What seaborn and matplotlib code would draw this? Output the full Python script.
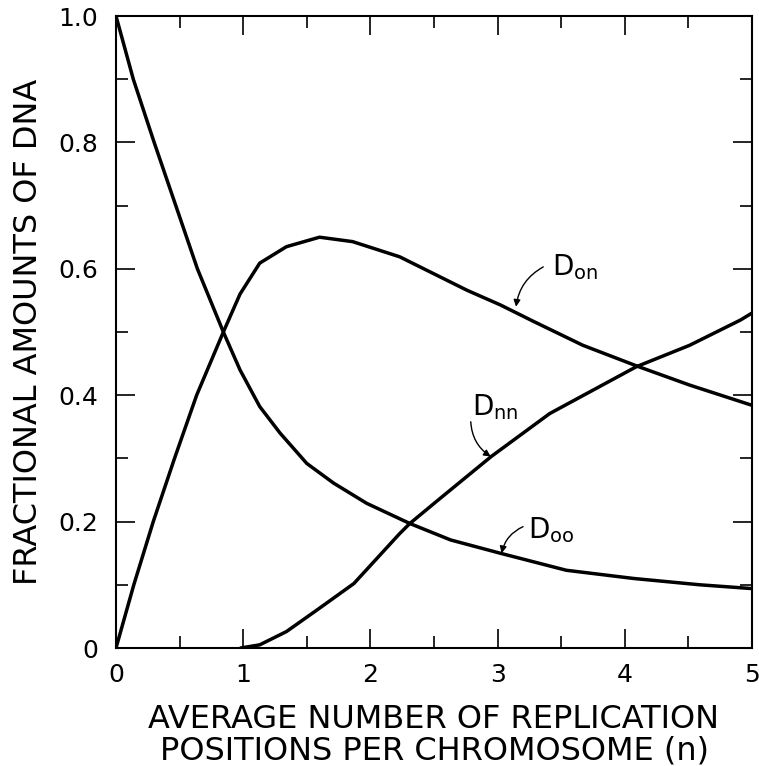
import matplotlib
matplotlib.use("Agg")
import matplotlib.pyplot as plt
from matplotlib.ticker import MultipleLocator, FixedLocator, FixedFormatter
import seaborn as sns
import pandas as pd

# ---- data ----
n_oo = [0, 0.136, 0.30, 0.47, 0.64, 0.844, 0.975, 1.13, 1.29, 1.50, 1.71, 1.97,
        2.31, 2.63, 3.02, 3.54, 4.07, 4.59, 5.0]
d_oo = [1.0, 0.9, 0.8, 0.7, 0.6, 0.5, 0.44, 0.382, 0.34, 0.292, 0.261, 0.229,
        0.197, 0.171, 0.150, 0.123, 0.110, 0.100, 0.094]

n_on = [0, 0.14, 0.293, 0.46, 0.634, 0.844, 0.975, 1.13, 1.34, 1.60, 1.86, 2.23,
        2.49, 2.76, 3.02, 3.28, 3.67, 4.11, 4.51, 5.0]
d_on = [0, 0.1, 0.2, 0.3, 0.4, 0.5, 0.56, 0.609, 0.635, 0.650, 0.643, 0.619,
        0.593, 0.566, 0.543, 0.517, 0.479, 0.445, 0.416, 0.384]

n_nn = [0.98, 1.13, 1.34, 1.60, 1.87, 2.23, 2.31, 2.55, 2.95, 3.41, 4.09, 4.51, 4.91, 5.0]
d_nn = [0.0, 0.005, 0.026, 0.063, 0.102, 0.181, 0.197, 0.237, 0.303, 0.371, 0.445,
        0.479, 0.519, 0.530]

x_ticks = [0, 1, 2, 3, 4, 5]
x_ticklabels = ["0", "1", "2", "3", "4", "5"]
y_ticks = [0, 0.2, 0.4, 0.6, 0.8, 1.0]
y_ticklabels = ["0", "0.2", "0.4", "0.6", "0.8", "1.0"]

labels = [r"$\mathregular{D_{on}}$", r"$\mathregular{D_{nn}}$", r"$\mathregular{D_{oo}}$"]
label_pos = [(3.425, 0.590), (2.796, 0.369), (3.239, 0.174)]
arrow_tail = [(3.359, 0.603), (2.789, 0.358), (3.200, 0.192)]
arrow_head = [(3.145, 0.540), (2.946, 0.303), (3.032, 0.150)]

xlabel = "AVERAGE NUMBER OF REPLICATION\nPOSITIONS PER CHROMOSOME (n)"
ylabel = "FRACTIONAL AMOUNTS OF DNA"

# ---- style ----
sns.set_style("ticks")
plt.rcParams["font.family"] = ["DejaVu Sans"]
plt.rcParams["mathtext.default"] = "regular"
for k in ("text.color", "axes.labelcolor", "xtick.color", "ytick.color",
          "axes.edgecolor"):
    plt.rcParams[k] = "black"

fig = plt.figure(figsize=(7.59, 7.66), dpi=100)
ax = fig.add_axes([116 / 759, 1 - 648 / 766, 636 / 759, 632 / 766])

df_oo = pd.DataFrame({"n": n_oo, "D": d_oo})
df_on = pd.DataFrame({"n": n_on, "D": d_on})
df_nn = pd.DataFrame({"n": n_nn, "D": d_nn})
for df in (df_oo, df_on, df_nn):
    sns.lineplot(data=df, x="n", y="D", ax=ax, color="black", linewidth=2.5,
                 estimator=None, sort=False)

ax.set_xlim(0, 5)
ax.set_ylim(0, 1.0)

ax.xaxis.set_major_locator(FixedLocator(x_ticks))
ax.xaxis.set_major_formatter(FixedFormatter(x_ticklabels))
ax.yaxis.set_major_locator(FixedLocator(y_ticks))
ax.yaxis.set_major_formatter(FixedFormatter(y_ticklabels))
ax.xaxis.set_minor_locator(MultipleLocator(0.5))
ax.yaxis.set_minor_locator(MultipleLocator(0.1))

ax.tick_params(which="both", direction="in", top=True, right=True,
               width=1.2, color="black", labelcolor="black")
ax.tick_params(which="major", length=14)
ax.tick_params(which="minor", length=8.5)
ax.tick_params(axis="x", which="major", labelsize=18, pad=11)
ax.tick_params(axis="y", which="major", labelsize=18, pad=13)

for s in ax.spines.values():
    s.set_linewidth(1.5)
    s.set_color("black")

ax.set_xlabel(xlabel, fontsize=23, linespacing=1.02, color="black")
ax.set_ylabel(ylabel, fontsize=23, color="black")
ax.xaxis.set_label_coords(0.5, -0.088)
ax.yaxis.set_label_coords(-0.113, 0.5)
ax.xaxis.label.set_va("top")

for lab, pos, tail, head in zip(labels, label_pos, arrow_tail, arrow_head):
    ax.text(pos[0], pos[1], lab, fontsize=20, ha="left", va="baseline",
            color="black")
    ax.annotate("", xy=head, xytext=tail,
                arrowprops=dict(arrowstyle="-|>", color="black", lw=1.0,
                                mutation_scale=10,
                                connectionstyle="arc3,rad=0.25",
                                shrinkA=0, shrinkB=0))

fig.savefig("out.png", dpi=100, facecolor="white")
